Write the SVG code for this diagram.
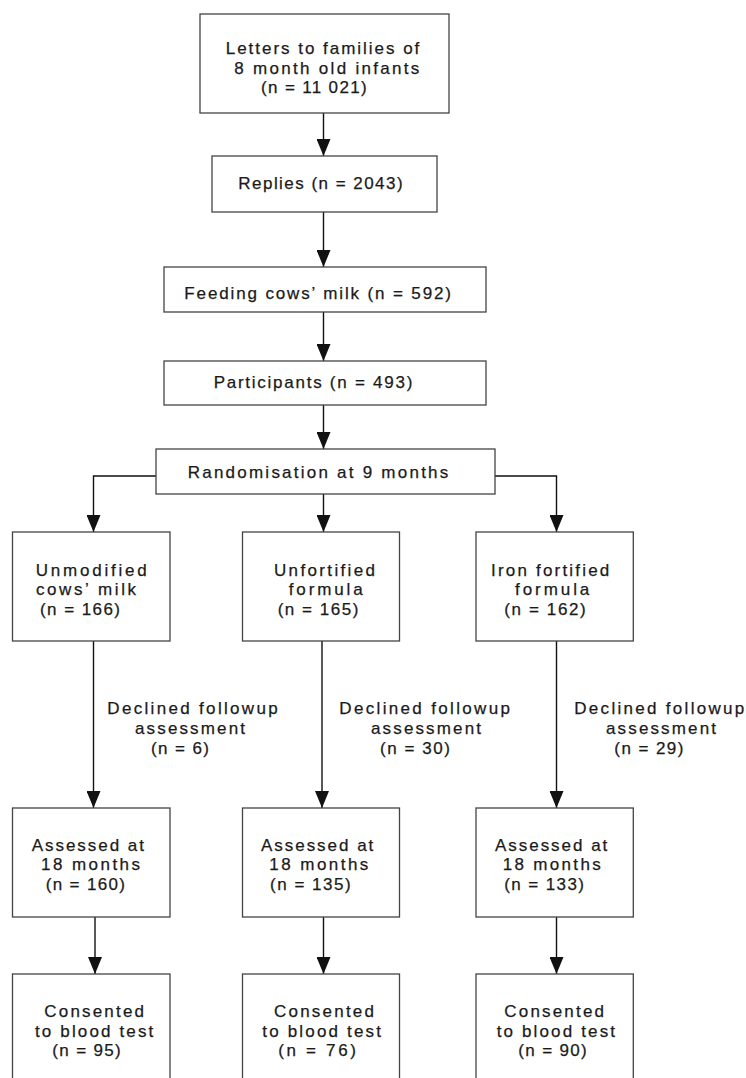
<svg xmlns="http://www.w3.org/2000/svg" width="746" height="1078" viewBox="0 0 746 1078">
<style>
.box{fill:#fff;stroke:#444;stroke-width:1.3}
.t{font-family:"Liberation Sans",Arial,Helvetica,sans-serif;font-size:17px;fill:#1a1a1a;stroke:#1a1a1a;stroke-width:0.25}
.c{fill:none;stroke:#111;stroke-width:1.4}
</style>
<defs>
<marker id="ah" markerUnits="userSpaceOnUse" markerWidth="17" markerHeight="14" refX="17" refY="7" orient="auto">
<path d="M0,0 L17,7 L0,14 z" fill="#111"/>
</marker>
</defs>
<rect width="746" height="1078" fill="#fff"/>
<g id="connectors">
<path class="c" d="M323.5,113 V156" marker-end="url(#ah)"/>
<path class="c" d="M323.5,212 V267" marker-end="url(#ah)"/>
<path class="c" d="M323.5,312 V361" marker-end="url(#ah)"/>
<path class="c" d="M323.5,405 V449" marker-end="url(#ah)"/>
<path class="c" d="M323.5,494 V532" marker-end="url(#ah)"/>
<path class="c" d="M156,476 H93.5 V532" marker-end="url(#ah)"/>
<path class="c" d="M495,476 H556.5 V532" marker-end="url(#ah)"/>
<path class="c" d="M93.5,641 V808" marker-end="url(#ah)"/>
<path class="c" d="M322,641 V808" marker-end="url(#ah)"/>
<path class="c" d="M556.5,641 V808" marker-end="url(#ah)"/>
<path class="c" d="M95,917 V974" marker-end="url(#ah)"/>
<path class="c" d="M323.5,917 V974" marker-end="url(#ah)"/>
<path class="c" d="M556.5,917 V974" marker-end="url(#ah)"/>
</g>
<g id="letters">
<rect class="box" x="200" y="14" width="249" height="99"/>
<text class="t"><tspan x="225.7" y="54" textLength="193.6">Letters to families of</tspan><tspan x="234.3" y="73.6" textLength="185">8 month old infants</tspan><tspan x="261" y="93.2" textLength="105.7">(n = 11 021)</tspan></text>
</g>
<g id="replies">
<rect class="box" x="212" y="156" width="225" height="56"/>
<text class="t" x="238.3" y="189.3" textLength="164.3">Replies (n = 2043)</text>
</g>
<g id="feeding">
<rect class="box" x="164" y="267" width="322" height="45"/>
<text class="t" x="184.3" y="299" textLength="266.7">Feeding cows’ milk (n = 592)</text>
</g>
<g id="participants">
<rect class="box" x="164" y="361" width="322" height="44"/>
<text class="t" x="213.7" y="388.3" textLength="198.6">Participants (n = 493)</text>
</g>
<g id="randomisation">
<rect class="box" x="156" y="449" width="339" height="45"/>
<text class="t" x="187.7" y="477.7" textLength="260.6">Randomisation at 9 months</text>
</g>
<g id="unmodified">
<rect class="box" x="12.5" y="532" width="157.5" height="109"/>
<text class="t"><tspan x="35.7" y="575.5" textLength="111">Unmodified</tspan><tspan x="36" y="595.1" textLength="100">cows’ milk</tspan><tspan x="40" y="614.7" textLength="80">(n = 166)</tspan></text>
</g>
<g id="unfortified">
<rect class="box" x="242.5" y="532" width="157" height="109"/>
<text class="t"><tspan x="274" y="575.5" textLength="101">Unfortified</tspan><tspan x="288.7" y="595.1" textLength="74">formula</tspan><tspan x="277.7" y="614.7" textLength="80.6">(n = 165)</tspan></text>
</g>
<g id="ironfortified">
<rect class="box" x="476" y="532" width="157.3" height="109"/>
<text class="t"><tspan x="491" y="575.5" textLength="118.3">Iron fortified</tspan><tspan x="515" y="595.1" textLength="74.3">formula</tspan><tspan x="504.3" y="614.7" textLength="81.4">(n = 162)</tspan></text>
</g>
<g id="declined1">
<text class="t"><tspan x="107.3" y="714.3" textLength="170.4">Declined followup</tspan><tspan x="135" y="733.9" textLength="110">assessment</tspan><tspan x="151" y="753.5" textLength="58">(n = 6)</tspan></text>
</g>
<g id="declined2">
<text class="t"><tspan x="339.3" y="714.3" textLength="170.7">Declined followup</tspan><tspan x="371" y="733.9" textLength="110">assessment</tspan><tspan x="380" y="753.5" textLength="70">(n = 30)</tspan></text>
</g>
<g id="declined3">
<text class="t"><tspan x="574.3" y="714.3" textLength="170">Declined followup</tspan><tspan x="606" y="733.9" textLength="110">assessment</tspan><tspan x="614.3" y="753.5" textLength="69">(n = 29)</tspan></text>
</g>
<g id="assessed1">
<rect class="box" x="12.5" y="808" width="157.5" height="109"/>
<text class="t"><tspan x="31.7" y="850.5" textLength="112.3">Assessed at</tspan><tspan x="41" y="870.1" textLength="99">18 months</tspan><tspan x="45.7" y="889.7" textLength="79.3">(n = 160)</tspan></text>
</g>
<g id="assessed2">
<rect class="box" x="242.5" y="808" width="157" height="109"/>
<text class="t"><tspan x="261" y="850.5" textLength="112.3">Assessed at</tspan><tspan x="269.3" y="870.1" textLength="99">18 months</tspan><tspan x="270" y="889.7" textLength="80.7">(n = 135)</tspan></text>
</g>
<g id="assessed3">
<rect class="box" x="476" y="808" width="157.3" height="109"/>
<text class="t"><tspan x="495" y="850.5" textLength="112.3">Assessed at</tspan><tspan x="502.7" y="870.1" textLength="98">18 months</tspan><tspan x="504.3" y="889.7" textLength="79.7">(n = 133)</tspan></text>
</g>
<g id="consented1">
<rect class="box" x="12.5" y="974" width="157.5" height="120"/>
<text class="t"><tspan x="44.3" y="1017" textLength="99.7">Consented</tspan><tspan x="35" y="1036.6" textLength="118.3">to blood test</tspan><tspan x="52.3" y="1056.2" textLength="68.4">(n = 95)</tspan></text>
</g>
<g id="consented2">
<rect class="box" x="242.5" y="974" width="157" height="120"/>
<text class="t"><tspan x="274" y="1017" textLength="100">Consented</tspan><tspan x="262.3" y="1036.6" textLength="118.7">to blood test</tspan><tspan x="278.3" y="1056.2" textLength="77.7">(n = 76)</tspan></text>
</g>
<g id="consented3">
<rect class="box" x="476" y="974" width="157.3" height="120"/>
<text class="t"><tspan x="504.3" y="1017" textLength="99.7">Consented</tspan><tspan x="496.7" y="1036.6" textLength="118.3">to blood test</tspan><tspan x="518.3" y="1056.2" textLength="68.4">(n = 90)</tspan></text>
</g>
</svg>
